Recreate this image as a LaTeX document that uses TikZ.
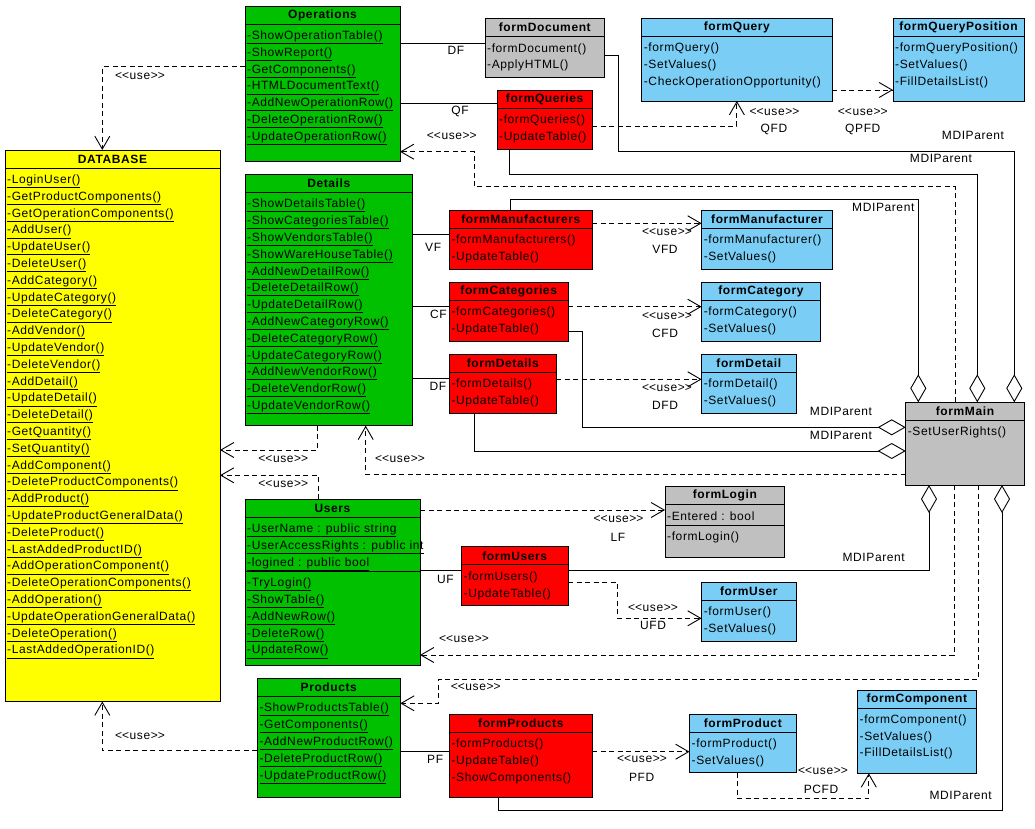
\documentclass[tikz,border=0pt]{standalone}
\usepackage{fontspec}
\setmainfont{Liberation Sans}[LetterSpace=5]
\usetikzlibrary{arrows.meta}
\definecolor{cgreen}{RGB}{0,192,0}
\definecolor{cyellow}{RGB}{255,255,0}
\definecolor{cred}{RGB}{255,0,0}
\definecolor{cblue}{RGB}{122,206,245}
\definecolor{cgray}{RGB}{192,192,192}
\tikzset{
  box/.style={draw, line width=0.9pt, anchor=north west, inner sep=0pt, outer sep=0pt},
  hdr/.style={inner sep=0pt, font=\fontsize{12pt}{14pt}\selectfont\bfseries},
  item/.style={anchor=base west, inner sep=0pt},
  lbl/.style={inner sep=0pt},
  conn/.style={line width=0.9pt},
  dep/.style={conn, dash pattern=on 5pt off 3.5pt, -{Straight Barb[length=13pt,width=15pt]}},
  agg/.style={conn, -{Diamond[open,fill=white,length=28pt,width=16pt]}},
}
\newcommand\uselbl{<\kern0pt<use>\kern0pt>}
\newcommand\umlclass[7]{%
  \node[box, fill=#6, minimum width=#4pt, minimum height=#5pt] (#1) at (#2,#3) {};
  \node[hdr] (#1-t) at ([yshift=-9pt]#1.north) {#7};
  \draw[line width=0.9pt] ([yshift=-18pt]#1.north west) -- ([yshift=-18pt]#1.north east);
}
\newcommand\umlitems[5]{%
  \foreach \itm [count=\k] in {#5} {\node[item] (#1-\k) at (#2, #3+\k*16.8-16.8) {#4{\itm}};}
}
\newcommand\plaintxt[1]{#1}
\begin{document}
\begin{tikzpicture}[x=1pt,y=-1pt, every node/.style={font=\fontsize{12pt}{14pt}\selectfont}]
\fill[white] (0,0) rectangle (1035,828);
\useasboundingbox (0,0) rectangle (1035,828);

% ---------- static classes ----------
\umlclass{ops}{245}{6}{155}{155.5}{cgreen}{Operations}
\umlitems{opsi}{247}{39.5}{\underline}{-ShowOperationTable(),-ShowReport(),-GetComponents(),-HTMLDocumentText(),-AddNewOperationRow(),-DeleteOperationRow(),-UpdateOperationRow()}

\umlclass{db}{5}{150}{215}{551.5}{cyellow}{DATABASE}
\umlitems{dbi}{7}{183.5}{\underline}{-LoginUser(),-GetProductComponents(),-GetOperationComponents(),-AddUser(),-UpdateUser(),-DeleteUser(),-AddCategory(),-UpdateCategory(),-DeleteCategory(),-AddVendor(),-UpdateVendor(),-DeleteVendor(),-AddDetail(),-UpdateDetail(),-DeleteDetail(),-GetQuantity(),-SetQuantity(),-AddComponent(),-DeleteProductComponents(),-AddProduct(),-UpdateProductGeneralData(),-DeleteProduct(),-LastAddedProductID(),-AddOperationComponent(),-DeleteOperationComponents(),-AddOperation(),-UpdateOperationGeneralData(),-DeleteOperation(),-LastAddedOperationID()}

\umlclass{det}{245}{174.3}{167.5}{251.4}{cgreen}{Details}
\umlitems{deti}{247}{207.8}{\underline}{-ShowDetailsTable(),-ShowCategoriesTable(),-ShowVendorsTable(),-ShowWareHouseTable(),-AddNewDetailRow(),-DeleteDetailRow(),-UpdateDetailRow(),-AddNewCategoryRow(),-DeleteCategoryRow(),-UpdateCategoryRow(),-AddNewVendorRow(),-DeleteVendorRow(),-UpdateVendorRow()}

\umlclass{usr}{245}{499}{175}{166.7}{cgreen}{Users}
\umlitems{usra}{247}{532.5}{\underline}{-UserName : public string,-UserAccessRights : public int,-logined : public bool}
\draw[line width=0.9pt] (usr.west |- 0,571.7) -- (usr.east |- 0,571.7);
\umlitems{usrm}{247}{586.7}{\underline}{-TryLogin(),-ShowTable(),-AddNewRow(),-DeleteRow(),-UpdateRow()}

\umlclass{prd}{257.3}{678.3}{143}{119}{cgreen}{Products}
\umlitems{prdi}{259.3}{711.8}{\underline}{-ShowProductsTable(),-GetComponents(),-AddNewProductRow(),-DeleteProductRow(),-UpdateProductRow()}

% ---------- forms ----------
\umlclass{fdoc}{485}{18.3}{119.5}{59}{cgray}{formDocument}
\umlitems{fdoci}{487}{52}{\plaintxt}{-formDocument(),-ApplyHTML()}

\umlclass{fqry}{641.7}{18.3}{190.3}{82.7}{cblue}{formQuery}
\umlitems{fqryi}{643.7}{51.8}{\plaintxt}{-formQuery(),-SetValues(),-CheckOperationOpportunity()}

\umlclass{fqp}{893}{18.3}{131}{82.7}{cblue}{formQueryPosition}
\umlitems{fqpi}{895}{51.8}{\plaintxt}{-formQueryPosition(),-SetValues(),-FillDetailsList()}

\umlclass{fqs}{497}{90}{95.3}{59.3}{cred}{formQueries}
\umlitems{fqsi}{499}{123.5}{\plaintxt}{-formQueries(),-UpdateTable()}

\umlclass{fmans}{449.4}{210}{142.9}{59.3}{cred}{formManufacturers}
\umlitems{fmansi}{451.4}{243.5}{\plaintxt}{-formManufacturers(),-UpdateTable()}

\umlclass{fman}{701.6}{210}{130.8}{59.3}{cblue}{formManufacturer}
\umlitems{fmani}{703.6}{243.5}{\plaintxt}{-formManufacturer(),-SetValues()}

\umlclass{fcats}{449.4}{282.3}{118.6}{59.4}{cred}{formCategories}
\umlitems{fcatsi}{451.4}{315.8}{\plaintxt}{-formCategories(),-UpdateTable()}

\umlclass{fcat}{701.6}{282.3}{118.6}{59.4}{cblue}{formCategory}
\umlitems{fcati}{703.6}{315.8}{\plaintxt}{-formCategory(),-SetValues()}

\umlclass{fdets}{449.4}{354.3}{106.9}{59}{cred}{formDetails}
\umlitems{fdetsi}{451.4}{387.8}{\plaintxt}{-formDetails(),-UpdateTable()}

\umlclass{fdet}{701.6}{354.3}{94.4}{59}{cblue}{formDetail}
\umlitems{fdeti}{703.6}{387.8}{\plaintxt}{-formDetail(),-SetValues()}

\umlclass{fmain}{905.7}{402.3}{118.6}{82.7}{cgray}{formMain}
\umlitems{fmaini}{907.7}{435.8}{\plaintxt}{-SetUserRights()}

\umlclass{flog}{665}{486.7}{119.6}{70.6}{cgray}{formLogin}
\umlitems{floga}{667}{520.2}{\plaintxt}{-Entered : bool}
\draw[line width=0.9pt] (flog.west |- 0,525.7) -- (flog.east |- 0,525.7);
\umlitems{flogm}{667}{540.7}{\plaintxt}{-formLogin()}

\umlclass{fusrs}{461.5}{546.7}{106.5}{58.3}{cred}{formUsers}
\umlitems{fusrsi}{463.5}{580.2}{\plaintxt}{-formUsers(),-UpdateTable()}

\umlclass{fusr}{701.6}{582.3}{94.4}{58.7}{cblue}{formUser}
\umlitems{fusri}{703.6}{615.8}{\plaintxt}{-formUser(),-SetValues()}

\umlclass{fprds}{449.4}{714.3}{142.9}{83}{cred}{formProducts}
\umlitems{fprdsi}{451.4}{747.8}{\plaintxt}{-formProducts(),-UpdateTable(),-ShowComponents()}

\umlclass{fprd}{689.5}{714.3}{106.5}{58.4}{cblue}{formProduct}
\umlitems{fprdi}{691.5}{747.8}{\plaintxt}{-formProduct(),-SetValues()}

\umlclass{fcomp}{857.5}{690}{118.5}{83.3}{cblue}{formComponent}
\umlitems{fcompi}{859.5}{723.3}{\plaintxt}{-formComponent(),-SetValues(),-FillDetailsList()}

% ---------- connectors ----------
% Operations
\draw[dep] (ops.west |- 0,66.7) -| ([xshift=-10.2pt]db.north);
\node[lbl] (l1) at (140,76) {\uselbl};
\draw[conn] (ops.east |- 0,43.3) -- (fdoc.west |- 0,43.3);
\node[lbl] (l2) at (456,50.7) {DF};
\draw[conn] (ops.east |- 0,103.3) -- (fqs.west |- 0,103.3);
\node[lbl] (l3) at (460,111) {QF};
\draw[dep] (fqs.east |- 0,126) -| (fqry.south);
\node[lbl] (l4) at (774.5,111.7) {\uselbl};
\node[lbl] (l5) at (774,129.3) {QFD};
\draw[dep] (fqry.east |- 0,90) -- (fqp.west |- 0,90);
\node[lbl] (l6) at (862.8,111.7) {\uselbl};
\node[lbl] (l7) at (862.8,129.3) {QPFD};
\draw[agg] (fdoc.east |- 0,55.3) -| (618.6,151.7) -| (fmain.north -| 1014.3,0);
\node[lbl] (l8) at (973,135.7) {MDIParent};
\draw[agg] ([xshift=-35.3pt]fqs.south) |- (977.3,174) -- (fmain.north -| 977.3,0);
\node[lbl] (l9) at (941,158.3) {MDIParent};
\draw[dep] (fmain.north -| 955,0) |- (474.3,186.7) |- (ops.east |- 0,151.7);
\node[lbl] (l10) at (451.8,135.7) {\uselbl};

% Details
\draw[agg] (fmans.north -| 510.7,0) |- (918.3,199.3) -- (fmain.north -| 918.3,0);
\node[lbl] (l11) at (883.3,207.7) {MDIParent};
\draw[conn] (det.east |- 0,234) -- (fmans.west |- 0,234);
\node[lbl] (l12) at (433.2,247.3) {VF};
\draw[conn] (det.east |- 0,306) -- (fcats.west |- 0,306);
\node[lbl] (l13) at (438.5,314) {CF};
\draw[conn] (det.east |- 0,378.3) -- (fdets.west |- 0,378.3);
\node[lbl] (l14) at (438,386.7) {DF};
\draw[dep] (fmans.east |- 0,223.3) -- (fman.west |- 0,223.3);
\node[lbl] (l15) at (667,231.7) {\uselbl};
\node[lbl] (l16) at (665,249.3) {VFD};
\draw[dep] (fcats.east |- 0,306.7) -- (fcat.west |- 0,306.7);
\node[lbl] (l17) at (667,316) {\uselbl};
\node[lbl] (l18) at (665,333.3) {CFD};
\draw[dep] (fdets.east |- 0,379.3) -- (fdet.west |- 0,379.3);
\node[lbl] (l19) at (667,387.7) {\uselbl};
\node[lbl] (l20) at (665,405) {DFD};
\draw[agg] (fcats.east |- 0,331.7) -| (582.2,427.3) -- (fmain.west |- 0,427.3);
\node[lbl] (l21) at (841,411) {MDIParent};
\draw[agg] (fdets.south -| 474,0) |- (fmain.west |- 0,451);
\node[lbl] (l22) at (841,435) {MDIParent};
\draw[dep] (fmain.west |- 0,474) -| (det.south -| 365.7,0);
\node[lbl] (l23) at (400,458.7) {\uselbl};
\draw[dep] (det.south -| 317.3,0) |- (db.east |- 0,450);
\node[lbl] (l24) at (283.3,458.7) {\uselbl};

% Users
\draw[dep] (usr.north -| 318.3,0) |- (db.east |- 0,475.3);
\node[lbl] (l25) at (283.3,483.7) {\uselbl};
\draw[dep] (usr.east |- 0,510) -- (flog.west |- 0,510);
\node[lbl] (l26) at (618.6,519.3) {\uselbl};
\node[lbl] (l27) at (617.8,537.3) {LF};
\draw[conn] (usr.east |- 0,570.7) -- (fusrs.west |- 0,570.7);
\node[lbl] (l28) at (445.3,579) {UF};
\draw[agg] (fusrs.east |- 0,570.7) -| (fmain.south -| 929,0);
\node[lbl] (l29) at (873.7,557.3) {MDIParent};
\draw[dep] (fusrs.east |- 0,582.3) -| (617.4,618.3) -- (fusr.west |- 0,618.3);
\node[lbl] (l30) at (653,608.3) {\uselbl};
\node[lbl] (l31) at (653,625.7) {UFD};
\draw[dep] (fmain.south -| 954.3,0) |- (usr.east |- 0,655);
\node[lbl] (l32) at (464,639.3) {\uselbl};

% Products
\draw[dep] (fmain.south -| 978.3,0) |- (438.5,679.3) |- (prd.east |- 0,703.3);
\node[lbl] (l33) at (475.7,687.3) {\uselbl};
\draw[dep] (prd.west |- 0,750.7) -| ([xshift=-10.2pt]db.south);
\node[lbl] (l34) at (140,735.7) {\uselbl};
\draw[conn] (prd.east |- 0,751.7) -- (fprds.west |- 0,751.7);
\node[lbl] (l35) at (435.2,759.3) {PF};
\draw[dep] (fprds.east |- 0,751.7) -- (fprd.west |- 0,751.7);
\node[lbl] (l36) at (642,759.3) {\uselbl};
\node[lbl] (l37) at (641.7,777.3) {PFD};
\draw[dep] (fprd.south -| 737.2,0) |- (868.8,798.3) -- (fcomp.south -| 868.8,0);
\node[lbl] (l38) at (823,771) {\uselbl};
\node[lbl] (l39) at (821,789) {PCFD};
\draw[agg] (fprds.south -| 498.4,0) |- (1002,810.7) -- (fmain.south -| 1002,0);
\node[lbl] (l40) at (960.7,795.7) {MDIParent};
\end{tikzpicture}
\end{document}
